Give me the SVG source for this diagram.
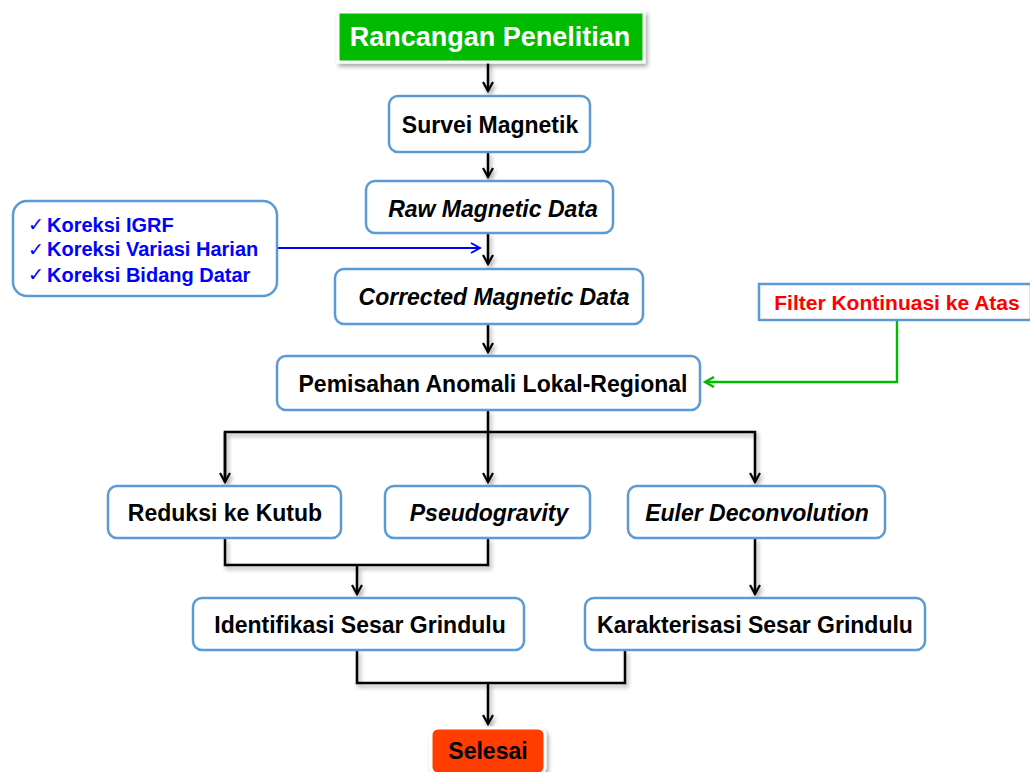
<svg xmlns="http://www.w3.org/2000/svg" width="1030" height="772" viewBox="0 0 1030 772">
<defs>
<filter id="sh" x="-20%" y="-20%" width="140%" height="160%">
<feDropShadow dx="2" dy="3" stdDeviation="2" flood-color="#000" flood-opacity="0.35"/>
</filter>
<marker id="ak" viewBox="0 0 12 12" refX="10" refY="6" markerWidth="12" markerHeight="12" markerUnits="userSpaceOnUse" orient="auto">
<path d="M1,1 L10,6 L1,11" fill="none" stroke="#000" stroke-width="2.2"/>
</marker>
<marker id="ab" viewBox="0 0 12 12" refX="10" refY="6" markerWidth="12" markerHeight="12" markerUnits="userSpaceOnUse" orient="auto">
<path d="M1,1 L10,6 L1,11" fill="none" stroke="#0000ff" stroke-width="2"/>
</marker>
<marker id="ag" viewBox="0 0 12 12" refX="10" refY="6" markerWidth="12" markerHeight="12" markerUnits="userSpaceOnUse" orient="auto">
<path d="M1,1 L10,6 L1,11" fill="none" stroke="#00bb00" stroke-width="2.4"/>
</marker>
</defs>
<style>
.box{fill:#fff;stroke:#5b9bd5;stroke-width:2.5}
.t{font-family:"Liberation Sans",Arial,sans-serif;font-weight:bold;font-size:23px;fill:#000;text-anchor:middle}
.i{font-style:italic}
.bl{font-family:"Liberation Sans",Arial,sans-serif;font-weight:bold;font-size:20px;fill:#0000ff}
.ck{font-family:"DejaVu Sans",sans-serif;font-size:19px;fill:#0000ff}
.c{fill:none;stroke:#000;stroke-width:2.5}
</style>
<rect width="1030" height="772" fill="#fff"/>
<g id="connectors">
<g filter="url(#sh)">
<line class="c" x1="488" y1="62" x2="488" y2="91" marker-end="url(#ak)"/>
<line class="c" x1="488" y1="152" x2="488" y2="177" marker-end="url(#ak)"/>
<line class="c" x1="488" y1="233" x2="488" y2="264" marker-end="url(#ak)"/>
<line class="c" x1="488" y1="324" x2="488" y2="352" marker-end="url(#ak)"/>
<polyline class="c" points="488,410 488,432"/>
<polyline class="c" points="225,482 225,432 755,432 755,482" marker-end="url(#ak)"/>
<line class="c" x1="225" y1="432" x2="225" y2="482" marker-end="url(#ak)"/>
<line class="c" x1="488" y1="432" x2="488" y2="482" marker-end="url(#ak)"/>
<polyline class="c" points="225,538 225,565 488,565 488,538"/>
<line class="c" x1="357" y1="565" x2="357" y2="594" marker-end="url(#ak)"/>
<line class="c" x1="755" y1="538" x2="755" y2="594" marker-end="url(#ak)"/>
<polyline class="c" points="357,650 357,683 625,683 625,650"/>
<line class="c" x1="488" y1="683" x2="488" y2="724" marker-end="url(#ak)"/>
</g>
<line x1="277" y1="248" x2="480" y2="248" stroke="#0000ff" stroke-width="2" marker-end="url(#ab)"/>
<polyline points="897,320 897,382 705,382" fill="none" stroke="#00bb00" stroke-width="2.4" marker-end="url(#ag)"/>
</g>
<g id="n-start">
<rect x="338" y="12" width="306" height="50" fill="#00bb00" stroke="#fff" stroke-width="3" filter="url(#sh)"/>
<text class="t" x="490" y="46" style="font-size:27px;fill:#fff">Rancangan Penelitian</text>
</g>
<g id="n-survei">
<rect class="box" x="389" y="96" width="201" height="56" rx="9"/>
<text class="t" x="490" y="133">Survei Magnetik</text>
</g>
<g id="n-raw">
<rect class="box" x="366" y="181" width="247" height="52" rx="9"/>
<text class="t i" x="493" y="217">Raw Magnetic Data</text>
</g>
<g id="n-koreksi">
<rect class="box" x="13" y="201" width="264" height="95" rx="14"/>
<text class="ck" x="28" y="231">✓</text>
<text class="ck" x="28" y="256">✓</text>
<text class="ck" x="28" y="281">✓</text>
<text class="bl" x="47" y="232">Koreksi IGRF</text>
<text class="bl" x="47" y="256">Koreksi Variasi Harian</text>
<text class="bl" x="47" y="282">Koreksi Bidang Datar</text>
</g>
<g id="n-corrected">
<rect class="box" x="335" y="269" width="308" height="55" rx="9"/>
<text class="t i" x="494" y="305">Corrected Magnetic Data</text>
</g>
<g id="n-filter">
<rect x="759" y="284" width="272" height="36" fill="#fff" stroke="#5b9bd5" stroke-width="2.5"/>
<text class="t" x="897" y="310" style="font-size:21px;fill:#ff0000">Filter Kontinuasi ke Atas</text>
</g>
<g id="n-pemisahan">
<rect class="box" x="277" y="356" width="423" height="54" rx="9"/>
<text class="t" x="493" y="392">Pemisahan Anomali Lokal-Regional</text>
</g>
<g id="n-reduksi">
<rect class="box" x="108" y="486" width="233" height="52" rx="9"/>
<text class="t" x="225" y="521">Reduksi ke Kutub</text>
</g>
<g id="n-pseudo">
<rect class="box" x="385" y="486" width="205" height="52" rx="9"/>
<text class="t i" x="489" y="521">Pseudogravity</text>
</g>
<g id="n-euler">
<rect class="box" x="628" y="486" width="257" height="52" rx="9"/>
<text class="t i" x="757" y="521">Euler Deconvolution</text>
</g>
<g id="n-identifikasi">
<rect class="box" x="193" y="598" width="331" height="52" rx="9"/>
<text class="t" x="360" y="633">Identifikasi Sesar Grindulu</text>
</g>
<g id="n-karakterisasi">
<rect class="box" x="585" y="598" width="340" height="52" rx="9"/>
<text class="t" x="755" y="633">Karakterisasi Sesar Grindulu</text>
</g>
<g id="n-selesai">
<rect x="431" y="728" width="114" height="46" rx="7" fill="#ff3d00" stroke="#fff" stroke-width="3" filter="url(#sh)"/>
<text class="t" x="488" y="759">Selesai</text>
</g>
</svg>
